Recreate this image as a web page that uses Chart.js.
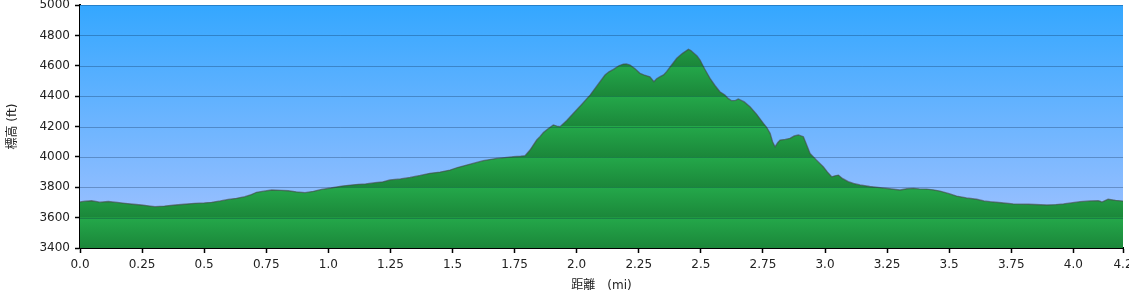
<!DOCTYPE html>
<html>
<head>
<meta charset="utf-8">
<script src="https://cdn.jsdelivr.net/npm/chart.js@4/dist/chart.umd.min.js"></script>
<style>
html,body{margin:0;padding:0;background:#fff;}
#wrap{width:1129px;height:301px;position:relative;}
</style>
</head>
<body>
<div id="wrap"><canvas id="c" width="1129" height="301"></canvas></div>
<script>
// Distance (mi)
const distances = [
  0, 0.02, 0.047, 0.08, 0.114, 0.15, 0.181, 0.215, 0.248, 0.275,
  0.302, 0.34, 0.383, 0.42, 0.463, 0.5, 0.53, 0.565, 0.597, 0.63,
  0.664, 0.69, 0.711, 0.74, 0.772, 0.81, 0.839, 0.87, 0.906, 0.94,
  0.973, 1.01, 1.054, 1.09, 1.121, 1.15, 1.188, 1.22, 1.248, 1.29,
  1.329, 1.37, 1.409, 1.45, 1.49, 1.52, 1.557, 1.59, 1.624, 1.65,
  1.678, 1.71, 1.745, 1.775, 1.792, 1.812, 1.839, 1.852, 1.866, 1.885,
  1.906, 1.92, 1.933, 1.96, 1.987, 2.02, 2.054, 2.085, 2.114, 2.13,
  2.148, 2.17, 2.188, 2.2, 2.215, 2.235, 2.255, 2.27, 2.282, 2.295,
  2.311, 2.322, 2.336, 2.35, 2.362, 2.38, 2.403, 2.425, 2.45, 2.46,
  2.47, 2.485, 2.497, 2.515, 2.537, 2.557, 2.577, 2.597, 2.61, 2.624,
  2.64, 2.651, 2.675, 2.698, 2.725, 2.752, 2.765, 2.779, 2.789, 2.799,
  2.81, 2.819, 2.84, 2.859, 2.876, 2.893, 2.913, 2.926, 2.94, 2.965,
  2.993, 3.01, 3.027, 3.04, 3.054, 3.07, 3.094, 3.115, 3.141, 3.18,
  3.222, 3.26, 3.302, 3.33, 3.356, 3.38, 3.409, 3.435, 3.463, 3.5,
  3.53, 3.57, 3.611, 3.64, 3.665, 3.71, 3.758, 3.82, 3.893, 3.93,
  3.96, 3.99, 4.027, 4.065, 4.1, 4.107, 4.115, 4.14, 4.17, 4.2
];
// Elevation (ft)
const elevations = [
  3703, 3708, 3711, 3702, 3706, 3700, 3694, 3688, 3683, 3678,
  3672, 3676, 3683, 3688, 3694, 3697, 3701, 3710, 3720, 3727,
  3738, 3752, 3767, 3774, 3782, 3780, 3777, 3770, 3764, 3773,
  3786, 3795, 3808, 3814, 3819, 3822, 3830, 3836, 3848, 3855,
  3865, 3878, 3892, 3900, 3913, 3930, 3946, 3960, 3975, 3982,
  3990, 3995, 4001, 4004, 4008, 4045, 4111, 4133, 4160, 4185,
  4210, 4203, 4199, 4240, 4287, 4345, 4407, 4475, 4539, 4560,
  4576, 4600, 4611, 4612, 4605, 4580, 4550, 4540, 4534, 4527,
  4495, 4515, 4528, 4540, 4561, 4600, 4649, 4680, 4708, 4700,
  4686, 4665, 4638, 4580, 4517, 4470, 4429, 4407, 4385, 4370,
  4372, 4381, 4362, 4330, 4280, 4221, 4195, 4155, 4100, 4067,
  4095, 4111, 4115, 4122, 4138, 4144, 4133, 4080, 4023, 3980,
  3935, 3900, 3869, 3875, 3880, 3858, 3837, 3825, 3815, 3805,
  3797, 3790, 3782, 3790, 3793, 3789, 3788, 3783, 3775, 3758,
  3742, 3730, 3721, 3710, 3705, 3698, 3690, 3688, 3683, 3686,
  3690, 3697, 3705, 3710, 3711, 3709, 3703, 3721, 3714, 3709
];
const xTickValues = [0, 0.25, 0.5, 0.75, 1.0, 1.25, 1.5, 1.75, 2.0, 2.25, 2.5, 2.75, 3.0, 3.25, 3.5, 3.75, 4.0, 4.2];
const xTickLabels = ['0.0','0.25','0.5','0.75','1.0','1.25','1.5','1.75','2.0','2.25','2.5','2.75','3.0','3.25','3.5','3.75','4.0','4.2'];
const yMin = 3400, yMax = 5000, yStep = 200;
const xTitle = '距離　(mi)';
const yTitle = '標高 (ft)';

const points = distances.map((d, i) => ({x: d, y: elevations[i]}));

const FONT = "'DejaVu Sans', 'Noto Sans CJK JP', sans-serif";

function bandGradient(ctx) {
  const chart = ctx.chart;
  const area = chart.chartArea;
  const ys = chart.scales.y;
  if (!area || !ys) return '#1f9a44';
  const g = chart.ctx.createLinearGradient(0, area.top, 0, area.bottom);
  const h = area.bottom - area.top;
  for (let v = yMax; v > yMin; v -= yStep) {
    const t = (ys.getPixelForValue(v) - area.top) / h;
    const b = (ys.getPixelForValue(v - yStep) - area.top) / h;
    g.addColorStop(Math.max(0, Math.min(1, t)), '#24a84a');
    g.addColorStop(Math.max(0, Math.min(1, b - 0.001)), '#1b873a');
  }
  return g;
}

const skyPlugin = {
  id: 'sky',
  beforeDatasetsDraw(chart) {
    const {ctx, chartArea: a} = chart;
    const g = ctx.createLinearGradient(0, a.top, 0, a.bottom);
    g.addColorStop(0, '#34a7ff');
    g.addColorStop(1, '#a8c3ff');
    ctx.save();
    ctx.fillStyle = g;
    ctx.fillRect(a.left, a.top, a.right - a.left, a.bottom - a.top);
    ctx.restore();
  }
};

// Draw horizontal grid lines on top of the filled area (as in the reference)
const gridOverPlugin = {
  id: 'gridOver',
  afterDatasetsDraw(chart) {
    const {ctx, chartArea: a, scales: {y}} = chart;
    ctx.save();
    ctx.strokeStyle = 'rgba(0,30,60,0.28)';
    ctx.lineWidth = 1;
    y.ticks.forEach(t => {
      if (t.value <= yMin) return;
      const py = Math.round(y.getPixelForValue(t.value)) + 0.5;
      ctx.beginPath();
      ctx.moveTo(a.left, py);
      ctx.lineTo(a.right, py);
      ctx.stroke();
    });
    ctx.restore();
  }
};

new Chart(document.getElementById('c'), {
  type: 'line',
  data: {
    datasets: [{
      data: points,
      borderColor: 'rgba(70,70,70,0.6)',
      borderWidth: 1.3,
      pointRadius: 0,
      tension: 0,
      fill: 'start',
      backgroundColor: bandGradient
    }]
  },
  options: {
    responsive: false,
    animation: false,
    devicePixelRatio: 1,
    layout: {padding: {top: 5, right: 6, left: 0, bottom: 0}},
    plugins: {legend: {display: false}, tooltip: {enabled: false}},
    scales: {
      x: {
        type: 'linear',
        min: 0,
        max: 4.2,
        border: {display: true, color: '#000', width: 2},
        grid: {drawOnChartArea: false, drawTicks: true, tickLength: 5, tickColor: '#000', tickWidth: 1.5},
        afterBuildTicks(scale) { scale.ticks = xTickValues.map(v => ({value: v})); },
        afterFit(scale) { scale.height = 53; scale.paddingLeft = 0; scale.paddingRight = 0; },
        ticks: {
          autoSkip: false, maxRotation: 0, padding: 5, color: '#222',
          font: {family: FONT, size: 12},
          callback: (v, i) => xTickLabels[i]
        },
        title: {display: true, text: xTitle, color: '#222', font: {family: FONT, size: 12}, padding: {top: 0, bottom: 8}}
      },
      y: {
        type: 'linear',
        min: yMin,
        max: yMax,
        border: {display: true, color: '#000', width: 2},
        grid: {drawOnChartArea: false, drawTicks: true, tickLength: 5, tickColor: '#000', tickWidth: 1.5},
        afterFit(scale) { scale.width = 80; scale.paddingTop = 0; scale.paddingBottom = 0; },
        ticks: {stepSize: yStep, padding: 5, color: '#222', font: {family: FONT, size: 12},
          callback: v => String(v)},
        title: {display: true, text: yTitle, color: '#222', font: {family: FONT, size: 12}, padding: {top: 6, bottom: 0}}
      }
    }
  },
  plugins: [skyPlugin, gridOverPlugin]
});
</script>
</body>
</html>
